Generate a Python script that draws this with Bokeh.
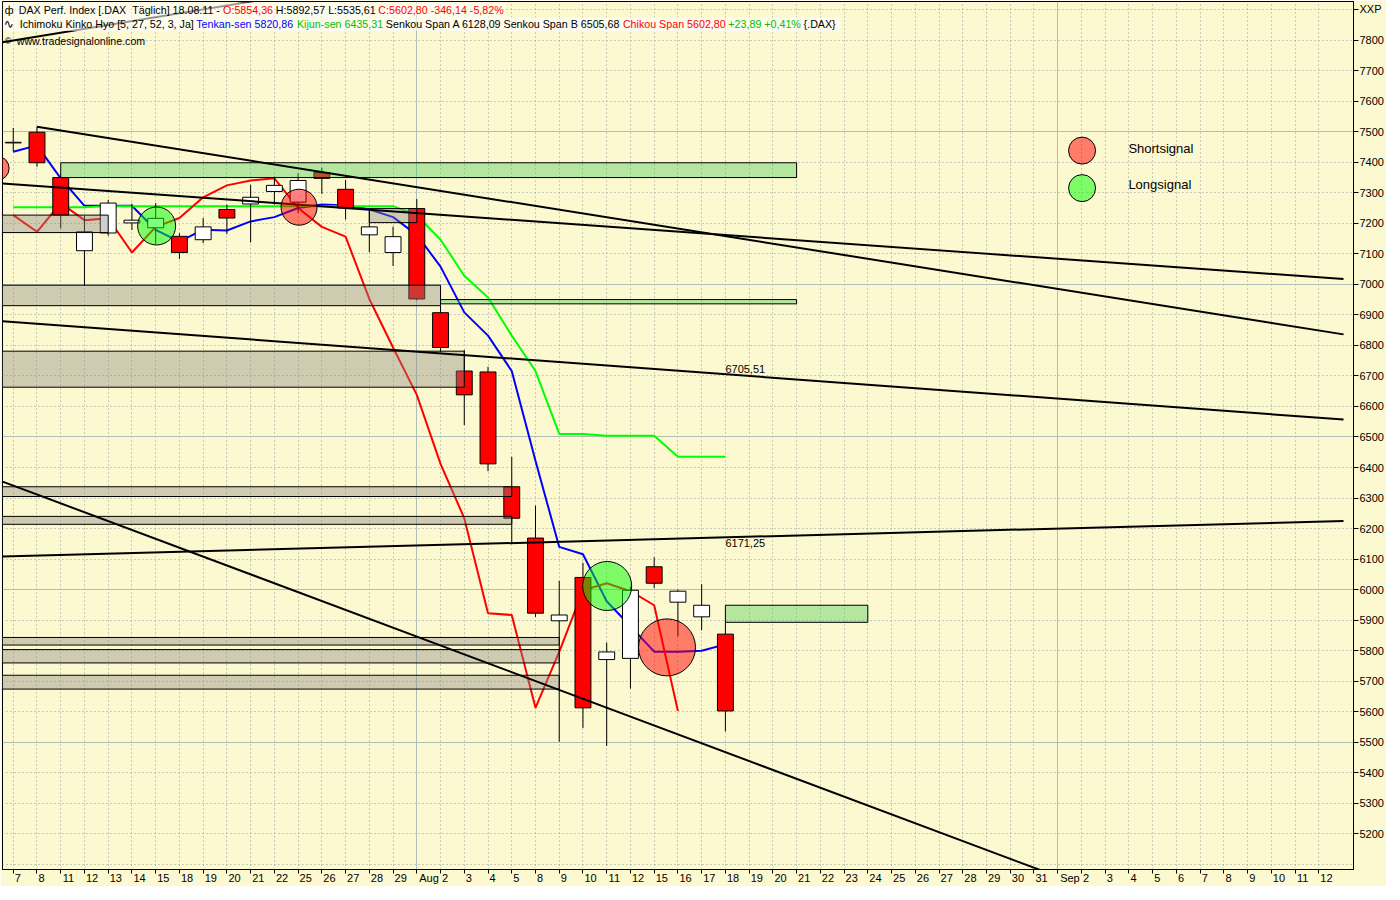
import numpy as np
from bokeh.plotting import figure
from bokeh.models import (ColumnDataSource, Range1d, FixedTicker, Grid, Label,
                          BoxAnnotation)
from bokeh.embed import file_html
from bokeh.resources import INLINE

# ---------------- data ----------------
day_labels = ["7", "8", "11", "12", "13", "14", "15", "18", "19", "20", "21", "22",
              "25", "26", "27", "28", "29", "Aug", "2", "3", "4", "5", "8", "9", "10",
              "11", "12", "15", "16", "17", "18",
              "19", "20", "21", "22", "23", "24", "25", "26", "27", "28", "29", "30",
              "31", "Sep", "2", "3", "4", "5", "6", "7", "8", "9", "10", "11", "12"]

open_ = [7463, 7498, 7349.5, 7110, 7168, 7201, 7185, 7157, 7146, 7245, 7263, 7304,
         7269, 7366, 7311, 7162, 7104, 7248, 6907, 6716, 6713, 6337, 6169, 5898, 6040,
         5771, 5775, 6075, 5959, 5911, 5854.36]
high = [7512, 7516, 7352, 7225, 7277, 7264, 7266, 7167, 7217, 7261, 7326, 7353,
        7363, 7382.6, 7342, 7250, 7189, 7279, 6929, 6785, 6730, 6435, 6275, 6029, 6088,
        5827, 6010, 6106.1, 6000, 6018, 5892.57]
low = [7435, 7385, 7183, 6995, 7159, 7178, 7132, 7083, 7135, 7164, 7137, 7261,
       7234, 7296, 7212, 7105, 7060, 6948, 6778, 6539, 6388, 6153, 5911, 5502, 5547,
       5488, 5676, 6005, 5847, 5867, 5535.61]
close = [7465, 7398, 7226.6, 7172, 7266, 7210, 7216, 7104, 7188, 7217, 7285, 7324,
         7340, 7347, 7250, 7188, 7156, 6952, 6793, 6638, 6412, 6234, 5923, 5917, 5613,
         5796, 5998, 6021, 5995, 5948.94, 5602.80]

tenkan = [7434, 7455, 7347, 7257, 7257, 7257, 7178, 7140, 7179, 7176, 7206, 7220,
          7250, 7261, 7258, 7246, 7220, 7162, 7058, 6908, 6832, 6716, 6422, 6140, 6116,
          5962, 5880, 5797, 5797, 5800, 5820.86]
kijun = [7252, 7252, 7252, 7252, 7256, 7256, 7256, 7256, 7256, 7256, 7256, 7256,
         7256, 7256, 7256, 7256, 7256, 7226, 7146, 7028, 6957, 6832, 6716, 6510, 6510,
         6504, 6504, 6504, 6435.31, 6435.31, 6435.31]
chikou = [7226.6, 7172, 7266, 7210, 7216, 7104, 7188, 7217, 7285, 7324, 7340, 7347,
          7250, 7188, 7156, 6952, 6793, 6638, 6412, 6234, 5923, 5917, 5613, 5796, 5998,
          6021, 5995, 5948.94, 5602.80]

# trend lines (bar index, price)
trend_x0 = [1, -0.45, -0.45, -0.45, -0.45, -0.45]
trend_y0 = [7516, 7330, 6879, 6354, 6108.5, 7793]
trend_x1 = [56.04, 56.04, 56.04, 43.5, 56.04, 12]
trend_y1 = [6836, 7017, 6557, 5075, 6224.9, 7951]

level_x = [30, 30]
level_values = [6705.51, 6171.25]
level_texts = ["6705,51", "6171,25"]

# gray zones
gz_left = [-1, 15, -1, -1, -1, -1, -1, -1, -1]
gz_right = [4, 17, 18, 19, 21, 21, 23, 23, 23]
gz_top = [7226.6, 7248, 6997, 6781, 6337, 6240, 5843.5, 5803.7, 5719.7]
gz_bottom = [7169.4, 7202, 6930, 6663, 6305, 6214, 5818.6, 5760, 5674.4]
# green (gap) zones
gn_left = [2, 18, 30]
gn_right = [33, 33, 36]
gn_top = [7398, 6950, 5949]
gn_bottom = [7349.5, 6936, 5893]

# signals
short_x = [-0.68, 12.04, 27.54]
short_y = [7380, 7252.5, 5811]
long_x = [6.04, 25.02]
long_y = [7191, 6012]

y_ticks = list(range(5200, 7900, 100))
symbol_tick = 7900
symbol_text = "XXP"

header_row1 = [("DAX Perf. Index [.DAX \u00a0Täglich] 18.08.11 -", "black"),
               ("O:5854,36", "#FF0000"),
               ("H:5892,57 L:5535,61", "black"),
               ("C:5602,80 -346,14 -5,82%", "#FF0000")]
header_row2 = [("Ichimoku Kinko Hyo [5, 27, 52, 3, Ja]", "black"),
               ("Tenkan-sen 5820,86", "#0000FF"),
               ("Kijun-sen 6435,31", "#00C000"),
               ("Senkou Span A 6128,09 Senkou Span B 6505,68", "black"),
               ("Chikou Span 5602,80", "#FF0000"),
               ("+23,89 +0,41%", "#00C000"),
               ("{.DAX}", "black")]

# ---------------- styles / layout ----------------
BG = "#FCF8D0"
FONT = "Liberation Sans"
FW, FH = 1351, 868
RX0, RX1, RY0, RY1 = 1.7, 1358.0, 1.0, 880.0
X0, X1 = -0.453, 56.46
Y0, Y1 = 5083.6, 7926.1


def sx(xr):
    return (xr - RX0) * FW / (RX1 - RX0)


def sy(yr):
    return FH - (yr - RY0) * FH / (RY1 - RY0)


def dx(xr):
    return X0 + (xr - RX0) / (RX1 - RX0) * (X1 - X0)


def dy(yr):
    return Y1 - (yr - RY0) / (RY1 - RY0) * (Y1 - Y0)


# Arial / Liberation Sans advance widths (1/1000 em) for text layout
AW = {" ": 278, "\u00a0": 278, "%": 889, "+": 584, ",": 278, "-": 333, ".": 278,
      ":": 278, "[": 278, "]": 278, "{": 334, "}": 334,
      "A": 667, "B": 667, "C": 722, "D": 722, "H": 722, "I": 278, "J": 500,
      "K": 667, "L": 556, "O": 778, "P": 667, "S": 667, "T": 611, "X": 667,
      "a": 556, "c": 500, "d": 556, "e": 556, "f": 278, "g": 556, "h": 556,
      "i": 222, "j": 222, "k": 500, "l": 222, "m": 833, "n": 556, "o": 556,
      "p": 556, "r": 333, "s": 500, "t": 278, "u": 556, "w": 722, "x": 500,
      "y": 500, "ä": 556}


def text_w(t, fs):
    return sum(AW.get(ch, 556) for ch in t) * fs / 1000.0


p = figure(frame_width=FW, frame_height=FH, x_range=Range1d(X0, X1),
           y_range=Range1d(Y0, Y1), output_backend="svg", toolbar_location=None,
           y_axis_location="right", min_border_left=2, min_border_top=1,
           min_border_right=30, min_border_bottom=15,
           background_fill_color=BG, border_fill_color=BG)
p.outline_line_color = "black"
p.outline_line_width = 1
p.xgrid.grid_line_color = None
p.ygrid.grid_line_color = None

# y axis (right)
p.yaxis.ticker = FixedTicker(ticks=y_ticks + [symbol_tick])
p.yaxis.major_label_overrides = {symbol_tick: symbol_text}
p.yaxis.major_tick_out = 5
p.yaxis.major_tick_in = 0
p.yaxis.minor_tick_out = 0
p.yaxis.minor_tick_in = 0
p.yaxis.major_label_standoff = 1
p.yaxis.major_label_text_font = FONT
p.yaxis.major_label_text_font_size = "11px"
p.yaxis.major_label_text_color = "black"
p.yaxis.axis_line_color = "black"

# x axis: tick mark at each bar, label text placed just right of its tick
n_all = len(day_labels)
XFS = 11.0


def padded(t):
    w = text_w(t, XFS)
    n = int(round((w + 4.0) / (0.278 * XFS)))
    return "\u00a0" * n + t


p.xaxis.ticker = FixedTicker(ticks=list(range(n_all)))
p.xaxis.major_label_overrides = {i: padded(t) for i, t in enumerate(day_labels)}
p.xaxis.major_tick_out = 4
p.xaxis.major_tick_in = 0
p.xaxis.minor_tick_out = 0
p.xaxis.minor_tick_in = 0
p.xaxis.major_label_standoff = -2
p.xaxis.major_label_text_font = FONT
p.xaxis.major_label_text_font_size = "11px"
p.xaxis.major_label_text_color = "black"
p.xaxis.axis_line_color = "black"

# grids
DOT = "#8EA2A2"
SOLID = "#AEC0B6"
month_idx = [i for i, t in enumerate(day_labels) if t in ("Aug", "Sep")]
dot_x = [i for i in range(n_all) if i not in month_idx]
all_h = list(range(5100, 8000, 100))
solid_h = [v for v in all_h if v % 500 == 0]
dot_h = [v for v in all_h if v % 500 != 0]
p.add_layout(Grid(dimension=0, ticker=FixedTicker(ticks=dot_x), grid_line_color=DOT,
                  grid_line_dash="1 3", grid_line_width=1))
p.add_layout(Grid(dimension=0, ticker=FixedTicker(ticks=month_idx), grid_line_color=SOLID,
                  grid_line_width=1))
p.add_layout(Grid(dimension=1, ticker=FixedTicker(ticks=dot_h), grid_line_color=DOT,
                  grid_line_dash="1 3", grid_line_width=1))
p.add_layout(Grid(dimension=1, ticker=FixedTicker(ticks=solid_h), grid_line_color=SOLID,
                  grid_line_width=1))

# ichimoku lines (behind candles)
idx = list(range(len(close)))
p.line(idx, tenkan, line_color="#0000FF", line_width=2)
p.line(idx, kijun, line_color="#00FF00", line_width=2)
p.line(list(range(len(chikou))), chikou, line_color="#FF0000", line_width=2)

# candles
tops = [max(o, c) for o, c in zip(open_, close)]
bots = [min(o, c) for o, c in zip(open_, close)]
cols = ["white" if c >= o else "#FF0000" for o, c in zip(open_, close)]
csrc = ColumnDataSource(dict(x=idx, top=tops, bottom=bots, high=high, low=low, color=cols))
p.segment(x0="x", y0="low", x1="x", y1="high", line_color="black", line_width=1, source=csrc)
p.vbar(x="x", top="top", bottom="bottom", width=0.67, fill_color="color",
       line_color="black", line_width=1, source=csrc)

# zones
p.quad(left=gz_left, right=gz_right, top=gz_top, bottom=gz_bottom,
       fill_color="#8C877F", fill_alpha=0.4, line_color="black", line_width=1)
p.quad(left=gn_left, right=gn_right, top=gn_top, bottom=gn_bottom,
       fill_color="#49CB58", fill_alpha=0.4, line_color="black", line_width=1)

# trend lines
p.segment(x0=trend_x0, y0=trend_y0, x1=trend_x1, y1=trend_y1, line_color="black",
          line_width=2)

# signals
p.scatter(short_x, short_y, size=[24, 36, 57], marker="circle", fill_color="#FF0000",
          fill_alpha=0.5, line_color="black", line_width=1)
p.scatter(long_x, long_y, size=[38, 49], marker="circle", fill_color="#00FF00",
          fill_alpha=0.5, line_color="black", line_width=1)

# legend
p.scatter([dx(1085.5), dx(1085.5)], [dy(152), dy(190)], size=27, marker="circle",
          fill_color=["#FF0000", "#00FF00"], fill_alpha=0.5, line_color="black",
          line_width=1)
p.add_layout(Label(x=sx(1132), y=sy(149.5), x_units="screen", y_units="screen",
                   text="Shortsignal", text_font=FONT, text_font_size="13px",
                   text_baseline="middle", text_align="left", text_color="black"))
p.add_layout(Label(x=sx(1132), y=sy(186), x_units="screen", y_units="screen",
                   text="Longsignal", text_font=FONT, text_font_size="13px",
                   text_baseline="middle", text_align="left", text_color="black"))

# level labels
p.add_layout(Label(x=level_x[0], y=level_values[0], text=level_texts[0], text_font=FONT,
                   text_font_size="11px", text_baseline="bottom", text_align="left",
                   y_offset=1, text_color="black"))
p.add_layout(Label(x=level_x[1], y=level_values[1], text=level_texts[1], text_font=FONT,
                   text_font_size="11px", text_baseline="top", text_align="left",
                   y_offset=-2, text_color="black"))

# header background (semi-transparent, over the chart)
p.add_layout(BoxAnnotation(left=sx(2), right=sx(507), top=sy(2), bottom=sy(17),
                           left_units="screen", right_units="screen",
                           top_units="screen", bottom_units="screen",
                           fill_color="white", fill_alpha=0.6, line_color=None))
p.add_layout(BoxAnnotation(left=sx(2), right=sx(843), top=sy(17), bottom=sy(31),
                           left_units="screen", right_units="screen",
                           top_units="screen", bottom_units="screen",
                           fill_color="white", fill_alpha=0.6, line_color=None))

# header texts (runs laid out one after another)
HFS = 10.7
GAP = AW[" "] * HFS / 1000.0


def add_run(x, yr, txt, col, fnt=FONT, fs=HFS):
    p.add_layout(Label(x=sx(x), y=sy(yr), x_units="screen", y_units="screen", text=txt,
                       text_font=fnt, text_font_size=f"{fs}px", text_color=col,
                       text_baseline="middle", text_align="left"))


for row, (x_start, yr) in ((header_row1, (18, 10)), (header_row2, (19, 24))):
    x = x_start
    for txt, col in row:
        add_run(x, yr, txt, col)
        x += text_w(txt, HFS) + GAP

add_run(4, 10, "ф", "black")
add_run(3, 24, "∿", "black", "DejaVu Sans", 12)
add_run(4, 41, "©", "black", FONT, 9)
add_run(16, 41, "www.tradesignalonline.com", "black", FONT, 10.6)

open("out.html", "w").write(file_html(p, INLINE))
